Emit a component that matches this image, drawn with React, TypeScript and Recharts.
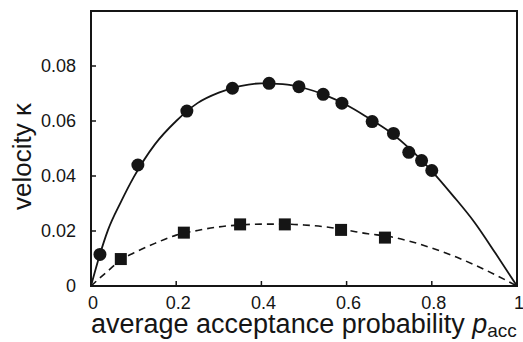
import { ComposedChart, Label, Line, ReferenceArea, Scatter, XAxis, YAxis } from 'recharts'

// fitted curves, sampled along p_acc
const fitP = [0, 0.02, 0.04, 0.07, 0.1, 0.15, 0.2, 0.25, 0.3, 0.35, 0.4, 0.45, 0.5, 0.55, 0.6, 0.65, 0.7, 0.75, 0.8, 0.85, 0.9, 0.95, 1]
const solidFit = [0, 0.011, 0.0204, 0.0305, 0.0395, 0.0515, 0.06, 0.0665, 0.0703, 0.0727, 0.0737, 0.0734, 0.072, 0.0694, 0.0658, 0.0612, 0.0562, 0.0497, 0.0418, 0.0328, 0.0232, 0.0118, 0]
const dashedFit = [0, 0.0028, 0.0055, 0.0095, 0.012, 0.0155, 0.0185, 0.0202, 0.0215, 0.0222, 0.0225, 0.0225, 0.0222, 0.0215, 0.0203, 0.019, 0.018, 0.0162, 0.0138, 0.011, 0.0077, 0.004, 0]

// measured velocities
const circleP = [0.021, 0.11, 0.225, 0.332, 0.418, 0.488, 0.545, 0.589, 0.66, 0.71, 0.746, 0.776, 0.8]
const circleKappa = [0.0115, 0.044, 0.0636, 0.0719, 0.0737, 0.0725, 0.0697, 0.0665, 0.0598, 0.0555, 0.0486, 0.0456, 0.042]
const squareP = [0.07, 0.218, 0.35, 0.455, 0.587, 0.69]
const squareKappa = [0.0098, 0.0194, 0.0224, 0.0224, 0.0204, 0.0176]

const xTicks = [0, 0.2, 0.4, 0.6, 0.8, 1]
const yTicks = [0, 0.02, 0.04, 0.06, 0.08]

const font = '"Liberation Sans", Arial, Helvetica, sans-serif'
const ink = '#151515'
const X_MARGIN = 15
const Y_MARGIN = 14
const TICK_LEN = 5

const solidLine = fitP.map((p, i) => ({ p, k: solidFit[i] }))
const dashedLine = fitP.map((p, i) => ({ p, k: dashedFit[i] }))
const circles = circleP.map((p, i) => ({ p, k: circleKappa[i] }))
const squares = squareP.map((p, i) => ({ p, k: squareKappa[i] }))

const fmtX = (v: number) => (v === 0 || v === 1 ? String(v) : v.toFixed(1))
const fmtY = (v: number) => (v === 0 ? '0' : v.toFixed(2))

// tick marks point into the plot, so draw them together with the label
function XTick(props: any) {
  const { x, y, payload } = props
  const axisY = y - X_MARGIN
  return (
    <g>
      <line x1={x} x2={x} y1={axisY} y2={axisY - TICK_LEN} stroke={ink} strokeWidth={1.5} />
      <text x={x + 2} y={y} dy="0.45em" textAnchor="middle" fontSize={18} fill={ink} fontFamily={font}>
        {fmtX(payload.value)}
      </text>
    </g>
  )
}

function YTick(props: any) {
  const { x, y, payload } = props
  const axisX = x + Y_MARGIN
  return (
    <g>
      <line x1={axisX} x2={axisX + TICK_LEN} y1={y} y2={y} stroke={ink} strokeWidth={1.5} />
      <text x={x - 1} y={y} dy="0.35em" textAnchor="end" fontSize={18} fill={ink} fontFamily={font}>
        {fmtY(payload.value)}
      </text>
    </g>
  )
}

function Disc(props: any) {
  const { cx, cy } = props
  return <circle cx={cx} cy={cy} r={6.5} fill={ink} />
}

function Block(props: any) {
  const { cx, cy } = props
  return <rect x={cx - 6} y={cy - 6} width={12} height={12} fill={ink} />
}

function XTitle(props: any) {
  const { x, y } = props.viewBox
  return (
    <text x={x} y={y + 47} fontSize={27} fill={ink} fontFamily={font}>
      average acceptance probability{' '}
      <tspan fontStyle="italic">p</tspan>
      <tspan fontSize={19} dy={4}>acc</tspan>
    </text>
  )
}

function YTitle(props: any) {
  const { y, height } = props.viewBox
  const cx = 31
  const cy = y + height / 2 + 8
  return (
    <text x={cx} y={cy} fontSize={26} fill={ink} fontFamily={font} textAnchor="middle" transform={`rotate(-90, ${cx}, ${cy})`}>
      velocity κ
    </text>
  )
}

export default function App() {
  return (
    <div style={{ position: 'absolute', left: 0, top: 0, background: '#fff' }}>
      <ComposedChart width={523} height={342} margin={{ top: 11, right: 6, left: 0, bottom: 0 }}>
        <XAxis
          xAxisId="x"
          dataKey="p"
          type="number"
          domain={[0, 1]}
          ticks={xTicks}
          tick={<XTick />}
          tickLine={false}
          tickSize={0}
          tickMargin={X_MARGIN}
          height={56}
          axisLine={false}
          allowDataOverflow
        >
          <Label content={<XTitle />} />
        </XAxis>
        <YAxis
          yAxisId="y"
          dataKey="k"
          type="number"
          domain={[0, 0.1]}
          ticks={yTicks}
          tick={<YTick />}
          tickLine={false}
          tickSize={0}
          tickMargin={Y_MARGIN}
          width={91}
          axisLine={false}
          allowDataOverflow
        >
          <Label content={<YTitle />} />
        </YAxis>
        {/* plot frame */}
        <ReferenceArea xAxisId="x" yAxisId="y" x1={0} x2={1} y1={0} y2={0.1} fill="none" stroke={ink} strokeWidth={2} ifOverflow="visible" />
        <Line xAxisId="x" yAxisId="y" data={solidLine} dataKey="k" type="monotone" stroke={ink} strokeWidth={1.8} dot={false} isAnimationActive={false} />
        <Line xAxisId="x" yAxisId="y" data={dashedLine} dataKey="k" type="monotone" stroke={ink} strokeWidth={1.6} strokeDasharray="7 5" dot={false} isAnimationActive={false} />
        <Scatter xAxisId="x" yAxisId="y" data={circles} dataKey="k" shape={<Disc />} isAnimationActive={false} />
        <Scatter xAxisId="x" yAxisId="y" data={squares} dataKey="k" shape={<Block />} isAnimationActive={false} />
      </ComposedChart>
    </div>
  )
}
